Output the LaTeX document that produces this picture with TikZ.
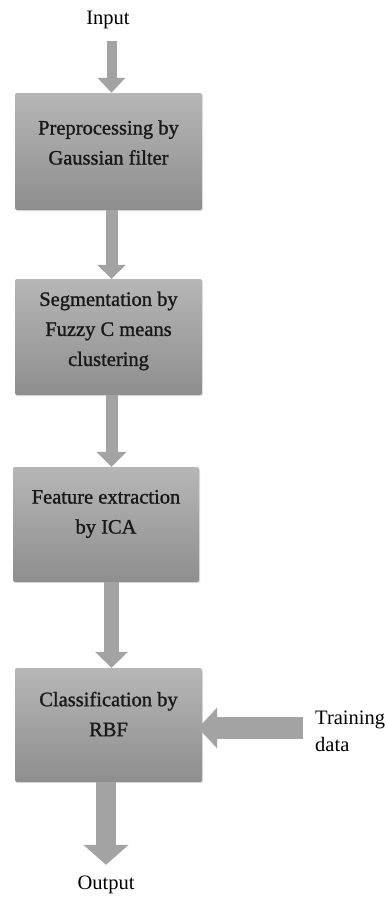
\documentclass[tikz,border=0pt]{standalone}
\usepackage{fontspec}
\setmainfont{Liberation Serif}
\newfontfamily\boxfont[FakeBold=1.2]{Liberation Serif}
\usetikzlibrary{arrows.meta,shadows}
\definecolor{boxtop}{RGB}{182,182,182}
\definecolor{boxbot}{RGB}{142,142,142}
\definecolor{arrowgray}{RGB}{163,163,163}
\definecolor{txt}{RGB}{25,25,25}
\begin{document}
\begin{tikzpicture}[x=1pt,y=-1pt,
  stagebox/.style={rectangle, rounded corners=2pt, top color=boxtop, bottom color=boxbot,
    draw=none, minimum width=187pt, inner sep=0pt,
    drop shadow={opacity=0.25, shadow xshift=1pt, shadow yshift=-1.2pt}},
  boxtext/.style={inner sep=0pt, align=center, text=txt, font=\boxfont\fontsize{20.5}{30}\selectfont},
  plaintext/.style={inner sep=0pt, align=left, text=black, font=\fontsize{20.5}{27}\selectfont},
  fatarrow/.style n args={3}{draw=arrowgray, line width=#1pt,
    -{Triangle[width=#2pt, length=#3pt, fill=arrowgray]}}
]
\useasboundingbox (0,0) rectangle (386,897);
\coordinate (ax) at (111.5,0);

\node[plaintext] (in) at (108,20) {Input};
\node[stagebox, minimum height=117pt] (b1) at (108.5,151.5) {};
\node[boxtext] (t1) at (108.5,142.5) {Preprocessing by\\Gaussian filter};
\node[stagebox, minimum height=116pt] (b2) at (108.5,337) {};
\node[boxtext] (t2) at (108.5,331) {Segmentation by\\Fuzzy C means\\clustering};
\node[stagebox, minimum height=115pt, minimum width=186pt] (b3) at (106,524.5) {};
\node[boxtext] (t3) at (106,514) {Feature extraction\\by ICA};
\node[stagebox, minimum height=114pt] (b4) at (108.5,725) {};
\node[boxtext] (t4) at (108.5,714) {Classification by\\RBF};
\node[plaintext] (out) at (106,885) {Output};
\node[plaintext, anchor=west] (tr) at (315,731.5) {Training\\data};
\coordinate (trs) at (303,728);

\draw[fatarrow={10}{27}{15}] ([yshift=-12pt]in.south -| ax) -- (b1.north -| ax);
\draw[fatarrow={12}{28}{14}] (b1.south -| ax) -- (b2.north -| ax);
\draw[fatarrow={12}{29}{15}] (b2.south -| ax) -- (b3.north -| ax);
\draw[fatarrow={15}{32}{16}] (b3.south -| ax) -- (b4.north -| ax);
\draw[fatarrow={20}{44}{20}] (b4.south -| out) -- ([yshift=11pt]out.north);
\draw[fatarrow={22}{40}{19}] (trs) -- ([xshift=-4pt]trs -| b4.east);
\end{tikzpicture}
\end{document}
